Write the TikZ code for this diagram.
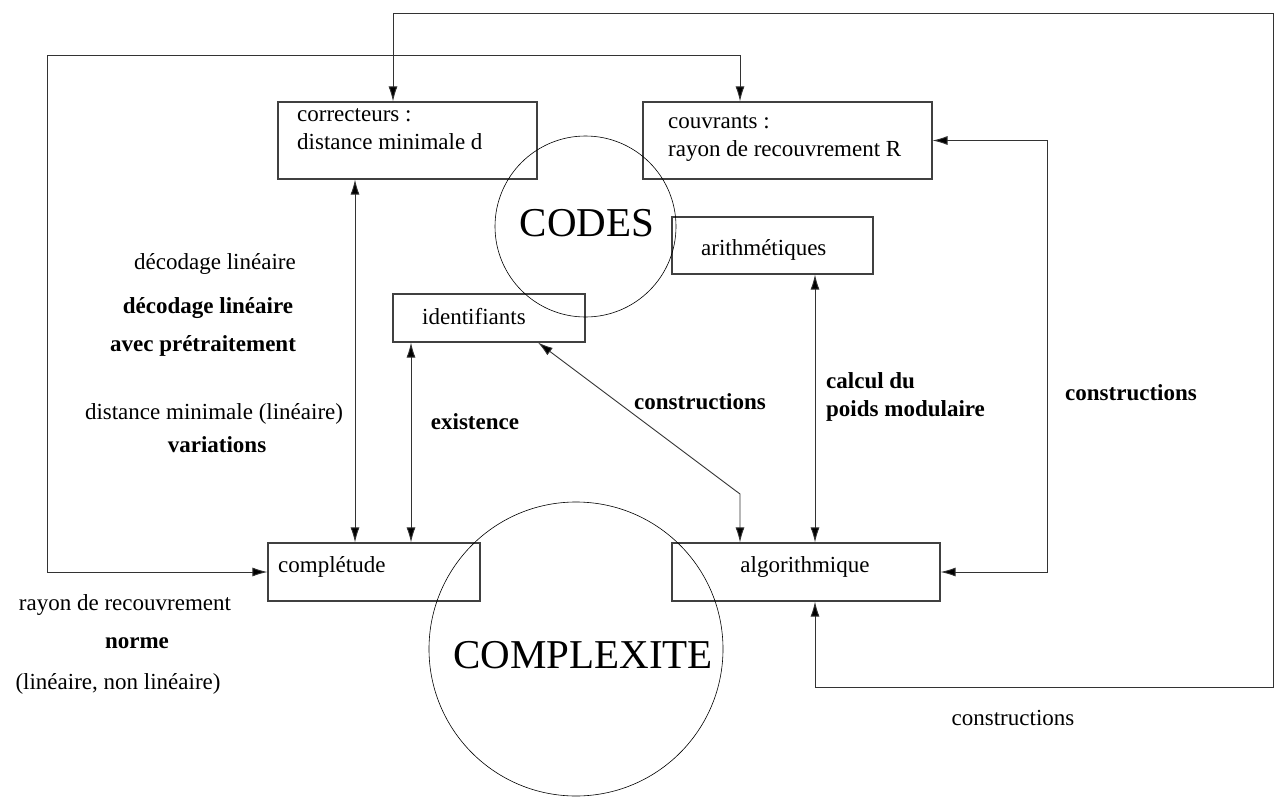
\documentclass[tikz,border=0pt]{standalone}
\usepackage{fontspec}
\setmainfont{Liberation Serif}
\usetikzlibrary{arrows.meta}

\tikzset{
  boite/.style={draw=black!75, line width=1.1pt, inner sep=0pt},
  rond/.style={draw, circle, line width=0.6pt, inner sep=0pt, font=\fontsize{41}{48}\selectfont},
  texte/.style={inner sep=0pt, font=\fontsize{23}{28}\selectfont},
  gras/.style={inner sep=0pt, font=\fontsize{23}{28}\selectfont\bfseries},
  fleche/.style={draw=black!80, line width=0.9pt, {Latex[length=15pt,width=9pt,fill=black]}-{Latex[length=15pt,width=9pt,fill=black]}}
}

\begin{document}
\begin{tikzpicture}[x=1pt, y=-1pt]
  \useasboundingbox (0,0) rectangle (1283,803);

  % Boites
  \node[boite, minimum width=259, minimum height=77] (corr) at (407.5,140.5) {};
  \node[boite, minimum width=289, minimum height=77] (couv) at (787.5,140.5) {};
  \node[boite, minimum width=201, minimum height=57] (arith) at (772.5,245.5) {};
  \node[boite, minimum width=192, minimum height=48] (ident) at (489,318) {};
  \node[boite, minimum width=212, minimum height=58] (compl) at (374,572) {};
  \node[boite, minimum width=268, minimum height=58] (algo) at (806,572) {};

  % Textes des boites
  \node[texte, anchor=west, align=left] (corrT) at (297,129) {correcteurs :\\distance minimale d};
  \node[texte, anchor=west, align=left] (couvT) at (668,139) {couvrants :\\rayon de recouvrement R};
  \node[texte, anchor=west] (arithT) at (701,250) {arithmétiques};
  \node[texte, anchor=west] (identT) at (422,317) {identifiants};
  \node[texte, anchor=west] (complT) at (278,567) {complétude};
  \node[texte] (algoT) at (805,567) {algorithmique};

  % Cercles
  \node[rond, minimum size=181] (codes) at (585.5,226.5) {};
  \node[rond, draw=none] (codesT) at (587,223) {CODES};
  \node[rond, minimum size=294] (complex) at (576,649) {};
  \node[rond, draw=none] (complexT) at (583,655) {COMPLEXITE};

  % Points de passage
  \coordinate (h1) at (393,13);
  \coordinate (h2) at (1273,13);
  \coordinate (h3) at (1273,687);
  \coordinate (h4) at (815,687);
  \coordinate (g1) at (47,572);
  \coordinate (g2) at (47,55);
  \coordinate (g3) at (740,55);
  \coordinate (d1) at (1047,140.5);
  \coordinate (d2) at (1047,572);
  \coordinate (b1) at (740,494);

  % Liaisons
  \draw[fleche] ([xshift=-14.5]corr.north) -- (h1) -- (h2) -- (h3) -- (h4) -- ([xshift=9]algo.south);
  \draw[fleche] (compl.west) -- (g1) -- (g2) -- (g3) -- ([xshift=-47.5]couv.north);
  \draw[fleche] (couv.east) -- (d1) -- (d2) -- (algo.east);
  \draw[fleche] ([xshift=-52.5]corr.south) -- ([xshift=-19]compl.north);
  \draw[fleche] ([xshift=-78]ident.south) -- ([xshift=37]compl.north);
  \draw[fleche] ([xshift=42.5]arith.south) -- ([xshift=9]algo.north);
  \draw[fleche] ([xshift=49]ident.south) -- (b1) -- ([xshift=-66]algo.north);

  % Etiquettes
  \node[texte] (l1) at (215,264) {décodage linéaire};
  \node[gras] (l2) at (208,308) {décodage linéaire};
  \node[gras] (l3) at (203,346) {avec prétraitement};
  \node[texte] (l4) at (214,414) {distance minimale (linéaire)};
  \node[gras] (l5) at (217,445) {variations};
  \node[texte] (l6) at (125,605) {rayon de recouvrement};
  \node[gras] (l7) at (137,643) {norme};
  \node[texte] (l8) at (118,684) {(linéaire, non linéaire)};
  \node[gras] (exist) at (475,422) {existence};
  \node[gras] (constr1) at (700,402) {constructions};
  \node[gras, anchor=west, align=left] (calcul) at (826,397) {calcul du\\poids modulaire};
  \node[gras] (constr2) at (1131,393) {constructions};
  \node[texte] (constr3) at (1013,718) {constructions};
\end{tikzpicture}
\end{document}
